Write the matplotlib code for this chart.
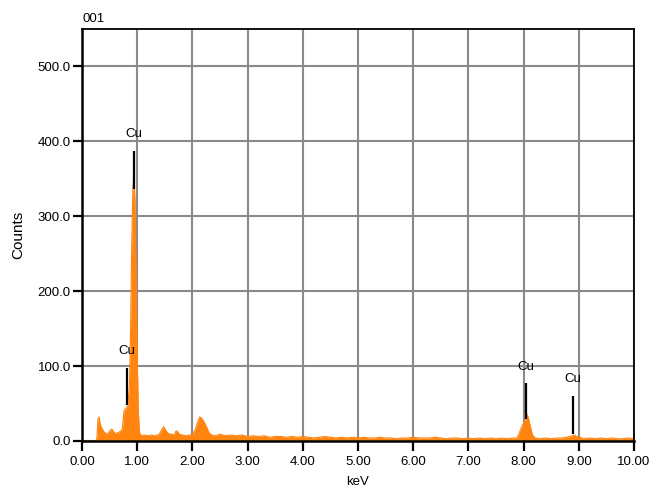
import matplotlib.pyplot as plt
import numpy as np

plt.rcParams['font.family'] = ['Liberation Sans', 'DejaVu Sans']

# spectrum (keV, counts)
energy = [0.00, 0.26, 0.27, 0.29, 0.31, 0.33, 0.36, 0.40, 0.45, 0.50, 0.54, 0.57,
          0.60, 0.65, 0.70, 0.73, 0.76, 0.80, 0.83, 0.86, 0.88, 0.90, 0.92, 0.94,
          0.96, 0.98, 1.00, 1.02, 1.04, 1.07, 1.12, 1.18, 1.25, 1.32, 1.40, 1.45,
          1.48, 1.52, 1.56, 1.62, 1.67, 1.70, 1.73, 1.76, 1.82, 1.88, 1.95, 2.00,
          2.05, 2.09, 2.13, 2.16, 2.20, 2.25, 2.30, 2.35, 2.42, 2.50, 2.60, 2.70,
          2.80, 2.90, 3.00, 3.10, 3.20, 3.30, 3.40, 3.50, 3.60, 3.70, 3.80, 3.90,
          4.00, 4.10, 4.20, 4.30, 4.40, 4.50, 4.60, 4.70, 4.80, 4.90, 5.00, 5.10,
          5.20, 5.30, 5.40, 5.50, 5.60, 5.70, 5.80, 5.90, 6.00, 6.10, 6.20, 6.30,
          6.40, 6.50, 6.60, 6.70, 6.80, 6.90, 7.00, 7.10, 7.20, 7.30, 7.40, 7.50,
          7.60, 7.70, 7.80, 7.88, 7.92, 7.96, 8.00, 8.04, 8.06, 8.09, 8.12, 8.16,
          8.21, 8.30, 8.40, 8.50, 8.60, 8.70, 8.78, 8.85, 8.92, 8.96, 9.02, 9.08,
          9.20, 9.30, 9.40, 9.50, 9.60, 9.70, 9.80, 9.90, 10.00]
counts = [0, 0, 5, 30, 32, 22, 17, 12, 9, 13, 16, 13,
          10, 11, 13, 16, 40, 44, 47, 75, 150, 260, 335, 358,
          320, 220, 110, 40, 12, 7, 8, 7, 8, 7, 9, 16,
          19, 14, 10, 9, 8, 13, 13, 9, 8, 7, 8, 9,
          15, 24, 32, 31, 27, 20, 11, 8, 7, 9, 7, 8,
          7, 8, 6, 7, 6, 7, 5, 6, 6, 5, 6, 5,
          6, 5, 4, 5, 6, 5, 4, 5, 4, 5, 4, 5,
          4, 4, 5, 4, 4, 3, 4, 4, 5, 4, 4, 4,
          5, 4, 3, 4, 4, 3, 4, 3, 4, 3, 4, 3,
          4, 3, 4, 4, 10, 18, 24, 30, 36, 30, 20, 8,
          4, 3, 4, 3, 4, 4, 5, 6, 8, 6, 5, 3,
          4, 3, 4, 3, 4, 3, 3, 4, 3]

# peak markers: position, line bottom, line top, label height
mark_e = [0.94, 0.82, 8.04, 8.90]
mark_lo = [336, 48, 30, 9]
mark_hi = [387, 98, 78, 60]
mark_lab_y = [410, 120, 99, 83]
mark_txt = ['Cu', 'Cu', 'Cu', 'Cu']

fig = plt.figure(figsize=(6.54, 4.87), dpi=100)
ax = fig.add_axes([0.1254, 0.0945, 0.844, 0.846])

ax.fill_between(energy, counts, 0, color='#ff8510', lw=0, zorder=2)
ax.plot(energy, counts, color='#ff8510', lw=0.8, zorder=2)

ax.vlines(mark_e, mark_lo, mark_hi, color='black', lw=1.6, zorder=4)
for e, yl, t in zip(mark_e, mark_lab_y, mark_txt):
    ax.text(e, yl, t, ha='center', va='center', fontsize=9.5, zorder=5)

ax.set_xlim(0, 10)
ax.set_ylim(0, 550)
ax.set_xticks(np.arange(0, 11, 1))
ax.set_xticklabels([f"{v:.2f}" for v in range(11)])
ax.set_yticks(np.arange(0, 600, 100))
ax.set_yticklabels([f"{v:.1f}" for v in range(0, 600, 100)])
ax.tick_params(axis='x', direction='out', length=7, width=1.6, labelsize=9.5, pad=4)
ax.tick_params(axis='y', direction='out', length=6.5, width=1.6, labelsize=9.5, pad=1.5)

ax.set_axisbelow(True)
ax.grid(True, color='#8a8a8a', lw=1.5)
for s in ax.spines.values():
    s.set_color('black')
    s.set_linewidth(1.3)
ax.spines['left'].set_linewidth(1.8)
ax.spines['bottom'].set_linewidth(1.8)

ax.set_xlabel('keV', fontsize=9.5)
ax.xaxis.set_label_coords(0.5, -0.084)
ax.set_ylabel('Counts', fontsize=11)
ax.yaxis.set_label_coords(-0.103, 0.5)
ax.text(0, 1.01, '001', transform=ax.transAxes, ha='left', va='bottom', fontsize=9.5)

fig.savefig('out.png', dpi=100)
